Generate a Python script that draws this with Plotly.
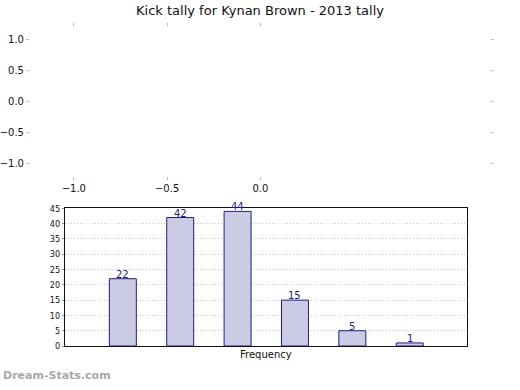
import plotly.graph_objects as go

# ---- data ----
title_text = "Kick tally for Kynan Brown - 2013 tally"
categories = ["b1", "b2", "b3", "b4", "b5", "b6"]
frequency = [22, 42, 44, 15, 5, 1]
top_y_ticks = [-1.0, -0.5, 0.0, 0.5, 1.0]
top_y_labels = ["\u22121.0", "\u22120.5", "0.0", "0.5", "1.0"]
top_x_ticks = [-1.0, -0.5, 0.0]
top_x_labels = ["\u22121.0", "\u22120.5", "0.0"]
bottom_y_ticks = [0, 5, 10, 15, 20, 25, 30, 35, 40, 45]
x_title = "Frequency"
watermark = "Dream-Stats.com"

W, H = 520, 390
def px(x): return x / W
def py(y): return 1 - y / H

fig = go.Figure()

# empty top axes (placeholder trace)
fig.add_trace(go.Scatter(x=[None], y=[None], xaxis="x", yaxis="y",
                         showlegend=False, hoverinfo="skip"))

fig.add_trace(go.Bar(
    x=categories, y=frequency, xaxis="x2", yaxis="y2",
    width=0.47,
    marker=dict(color="#cbcbe3", line=dict(color="#1c1c8c", width=1)),
    showlegend=False,
))

annotations = []
for i, v in enumerate(frequency):
    annotations.append(dict(
        x=i, y=v, xref="x2", yref="y2", text=str(v), showarrow=False,
        xanchor="center", yanchor="bottom", yshift=-3,
        font=dict(family="DejaVu Sans", size=10, color="#1c1c8c"),
    ))
annotations.append(dict(
    x=px(266), y=py(359), xref="paper", yref="paper", text=x_title,
    showarrow=False, xanchor="center", yanchor="middle",
    font=dict(family="DejaVu Sans", size=10, color="#111111"),
))
annotations.append(dict(
    x=0, y=py(380), xref="paper", yref="paper", text="<b>" + watermark + "</b>",
    showarrow=False, xanchor="left", yanchor="middle",
    font=dict(family="DejaVu Sans", size=11, color="#a8a8a8"),
))

tickgray = "#bdbdbd"
fig.update_layout(
    width=W, height=H, autosize=False,
    margin=dict(l=0, r=0, t=0, b=0),
    paper_bgcolor="white", plot_bgcolor="white",
    title=dict(text=title_text, x=0.5, xanchor="center", y=py(10), yanchor="middle",
               font=dict(family="DejaVu Sans", size=13, color="#111111")),
    xaxis=dict(domain=[px(29), px(490)], range=[-1.235, 1.23],
               tickvals=top_x_ticks, ticktext=top_x_labels,
               ticks="outside", ticklen=3, tickcolor=tickgray, tickwidth=1,
               showgrid=False, zeroline=False, showline=False, mirror="ticks",
               tickfont=dict(family="DejaVu Sans", size=10, color="#111111"),
               anchor="y"),
    yaxis=dict(domain=[py(175), py(23)], range=[-1.19, 1.19],
               tickvals=top_y_ticks, ticktext=top_y_labels,
               ticks="outside", ticklen=3, tickcolor=tickgray, tickwidth=1,
               showgrid=False, zeroline=False, showline=False, mirror="ticks",
               tickfont=dict(family="DejaVu Sans", size=10, color="#111111"),
               anchor="x"),
    xaxis2=dict(domain=[px(64), px(467)], range=[-1.01, 6.0],
                showticklabels=False, ticks="", showgrid=False, zeroline=False,
                showline=True, linecolor="#111111", linewidth=1, mirror=True,
                anchor="y2"),
    yaxis2=dict(domain=[py(350), py(208.7)], range=[0, 45],
                tickvals=bottom_y_ticks,
                ticks="outside", ticklen=2, tickcolor="#999999",
                showgrid=True, gridcolor="#c4c4c4", griddash="1px,2px", gridwidth=1,
                zeroline=False, showline=True, linecolor="#111111", linewidth=1,
                mirror=True,
                tickfont=dict(family="DejaVu Sans Condensed, DejaVu Sans", size=9,
                              color="#111111"),
                anchor="x2"),
    annotations=annotations,
)

fig.write_html("out.html",
               config={"responsive": False, "displayModeBar": False},
               post_script="document.body.style.margin='0';document.body.style.overflow='hidden';")
